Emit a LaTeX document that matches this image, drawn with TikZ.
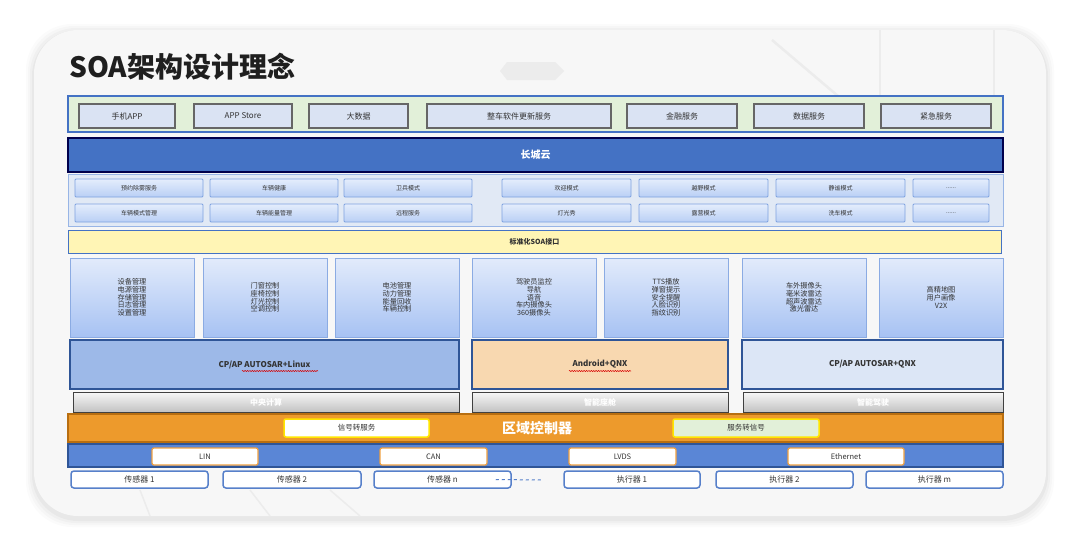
\documentclass[tikz,border=0pt]{standalone}
\usepackage{fontspec}
\setmainfont{Noto Sans CJK SC}
\usetikzlibrary{decorations.pathmorphing}
\definecolor{cardbg}{HTML}{F7F7F7}
\definecolor{txt}{HTML}{333333}
\definecolor{bblue}{HTML}{4472C4}
\definecolor{dblue}{HTML}{2F5597}
\definecolor{lgreen}{HTML}{E2F0D9}
\definecolor{lblue}{HTML}{DAE3F3}
\definecolor{btnbd}{HTML}{7EA2E0}
\definecolor{btntop}{HTML}{E4EDFC}
\definecolor{btnbot}{HTML}{B9CFF5}
\definecolor{fbtop}{HTML}{E2EBFB}
\definecolor{fbbot}{HTML}{A7C2F3}
\definecolor{osA}{HTML}{9DB9E8}
\definecolor{osB}{HTML}{F8D8B0}
\definecolor{osC}{HTML}{DCE6F6}
\definecolor{orangeb}{HTML}{ED9A2C}
\definecolor{oranged}{HTML}{B86E10}
\definecolor{busblue}{HTML}{5A86D6}
\definecolor{buslbl}{HTML}{F0A040}
\definecolor{ylw}{HTML}{FFF5B5}
\definecolor{ylwbd}{HTML}{FFE600}
\definecolor{faint}{HTML}{ECECEC}
\newcommand\mkbox[7]{\node[#1, minimum width={#5-#3}, minimum height={#6-#4}] (#2) at ({(#3+#5)/2},{(#4+#6)/2}) {#7};}
\tikzset{
  base/.style={inner sep=0pt, align=center, text=txt},
  band/.style={base, draw=bblue, line width=1.2pt},
  topbtn/.style={base, draw=black!60, line width=1.2pt, fill=lblue, font=\fontsize{8}{9}\selectfont},
  scenebtn/.style={base, draw=btnbd, line width=0.8pt, top color=btntop, bottom color=btnbot, rounded corners=1pt, font=\fontsize{6}{7}\selectfont},
  funcbox/.style={base, draw=btnbd!90, line width=0.8pt, top color=fbtop, bottom color=fbbot, font=\fontsize{7.2}{7.7}\selectfont},
  osbox/.style={base, draw=dblue, line width=1.5pt, font=\fontsize{8}{9}\selectfont\bfseries},
  greybar/.style={base, draw=black!75, line width=1pt, top color=black!3, bottom color=black!24, text=white, font=\fontsize{8}{9}\selectfont\bfseries},
  convbox/.style={base, draw=ylwbd, line width=1.5pt, rounded corners=2pt, font=\fontsize{7.5}{9}\selectfont},
  buslabel/.style={base, fill=white, draw=buslbl, line width=1.2pt, rounded corners=2pt, font=\fontsize{7.5}{9}\selectfont},
  devbox/.style={base, fill=white, draw=bblue!90, line width=1.5pt, rounded corners=3pt, font=\fontsize{8}{9}\selectfont},
  wavy/.style={draw=red!85!black, line width=0.5pt, decorate, decoration={snake, amplitude=0.6pt, segment length=2.4pt}},
  faintline/.style={draw=faint, line width=2.5pt}
}
\begin{document}
\begin{tikzpicture}[x=1pt,y=-1pt]
\useasboundingbox (0,0) rectangle (1080,541);
\fill[white] (0,0) rectangle (1080,541);
% card with soft shadow
\foreach \i/\o in {8/0.015,6/0.02,4/0.025,2/0.03}
  \fill[black,opacity=\o,rounded corners=46] (34-\i,32-\i) rectangle (1046+\i,519+\i);
\fill[cardbg, rounded corners=44] (34,30) rectangle (1046,516);
% faint background decorations
\draw[faintline] (772,40) -- (838,96);
\draw[faintline] (880,30) -- (880,96);
\draw[faintline] (994,30) -- (994,96);
\fill[faint] (507,62) -- (555,62) -- (564,71) -- (555,80) -- (507,80) -- (500,71) -- cycle;
\draw[faintline, line width=1.5pt] (140,490) -- (150,516);
\draw[faintline, line width=1.5pt] (250,490) -- (270,516);
\draw[faintline, line width=1.5pt] (330,490) -- (360,516);
% title
\node[anchor=west, inner sep=0pt, text=black!88, font=\fontsize{28}{30}\selectfont\bfseries] (title) at (69,67) {SOA架构设计理念};
% top band
\mkbox{band, fill=lgreen}{topband}{68}{96}{1003}{132}{}
\mkbox{topbtn}{t1}{79}{104}{175}{128}{手机APP}
\mkbox{topbtn}{t2}{194}{104}{292}{128}{APP Store}
\mkbox{topbtn}{t3}{309}{104}{408}{128}{大数据}
\mkbox{topbtn}{t4}{427}{104}{611}{128}{整车软件更新服务}
\mkbox{topbtn}{t5}{627}{104}{737}{128}{金融服务}
\mkbox{topbtn}{t6}{754}{104}{864}{128}{数据服务}
\mkbox{topbtn}{t7}{881}{104}{991}{128}{紧急服务}
% cloud
\mkbox{base, fill=bblue, draw=black!70!blue, line width=1.5pt, text=white, font=\fontsize{10}{12}\selectfont\bfseries}{cloud}{68}{138}{1003}{172}{长城云}
% scene panel
\mkbox{base, fill=lblue!80, draw=btnbd!80, line width=1pt}{scenes}{68}{174}{1003}{226}{}
\mkbox{scenebtn}{s11}{75}{179}{203}{197}{预约除雾服务}
\mkbox{scenebtn}{s12}{210}{179}{338}{197}{车辆健康}
\mkbox{scenebtn}{s13}{344}{179}{472}{197}{卫兵模式}
\mkbox{scenebtn}{s14}{502}{179}{631}{197}{欢迎模式}
\mkbox{scenebtn}{s15}{639}{179}{768}{197}{越野模式}
\mkbox{scenebtn}{s16}{776}{179}{905}{197}{静谧模式}
\mkbox{scenebtn}{s17}{913}{179}{989}{197}{......}
\mkbox{scenebtn}{s21}{75}{204}{203}{222}{车辆模式管理}
\mkbox{scenebtn}{s22}{210}{204}{338}{222}{车辆能量管理}
\mkbox{scenebtn}{s23}{344}{204}{472}{222}{远程服务}
\mkbox{scenebtn}{s24}{502}{204}{631}{222}{灯光秀}
\mkbox{scenebtn}{s25}{639}{204}{768}{222}{露营模式}
\mkbox{scenebtn}{s26}{776}{204}{905}{222}{洗车模式}
\mkbox{scenebtn}{s27}{913}{204}{989}{222}{......}
% SOA interface
\mkbox{base, fill=ylw, draw=bblue, line width=1pt, font=\fontsize{7}{8}\selectfont\bfseries}{soa}{68}{230}{1001}{253}{标准化SOA接口}
% function boxes
\mkbox{funcbox}{f1}{70}{258}{194}{337}{设备管理\\电源管理\\存储管理\\日志管理\\设置管理}
\mkbox{funcbox}{f2}{203}{258}{327}{337}{门窗控制\\座椅控制\\灯光控制\\空调控制}
\mkbox{funcbox}{f3}{335}{258}{459}{337}{电池管理\\动力管理\\能量回收\\车辆控制}
\mkbox{funcbox}{f4}{472}{258}{596}{337}{驾驶员监控\\导航\\语音\\车内摄像头\\360摄像头}
\mkbox{funcbox}{f5}{604}{258}{728}{337}{TTS播放\\弹窗提示\\安全提醒\\人脸识别\\指纹识别}
\mkbox{funcbox}{f6}{742}{258}{866}{337}{车外摄像头\\毫米波雷达\\超声波雷达\\激光雷达}
\mkbox{funcbox}{f7}{879}{258}{1003}{337}{高精地图\\用户画像\\V2X}
% OS boxes
\mkbox{osbox, fill=osA}{osA}{70}{340}{459}{389}{CP/AP AUTOSAR+Linux}
\mkbox{osbox, fill=osB}{osB}{472}{340}{728}{389}{Android+QNX}
\mkbox{osbox, fill=osC}{osC}{742}{340}{1003}{389}{CP/AP AUTOSAR+QNX}
\coordinate (wA1) at (242,371); \coordinate (wA2) at (318,371);
\draw[wavy] (wA1) -- (wA2);
\coordinate (wB1) at (569,371); \coordinate (wB2) at (631,371);
\draw[wavy] (wB1) -- (wB2);
% grey domain bars
\mkbox{greybar}{g1}{73}{392}{459}{412}{中央计算}
\mkbox{greybar}{g2}{472}{392}{728}{412}{智能座舱}
\mkbox{greybar}{g3}{743}{392}{1003}{412}{智能驾驶}
% zone controller
\mkbox{base, fill=orangeb, draw=oranged, line width=1.2pt}{zone}{68}{414}{1003}{442}{}
\node[inner sep=0pt, text=white, font=\fontsize{14}{16}\selectfont\bfseries] (zonelbl) at (537,428) {区域控制器};
\mkbox{convbox, fill=white}{c1}{284}{419}{429}{437}{信号转服务}
\mkbox{convbox, fill=lgreen}{c2}{673}{419}{819}{437}{服务转信号}
% bus
\mkbox{base, fill=busblue, draw=dblue, line width=1.2pt}{bus}{68}{444}{1003}{467}{}
\mkbox{buslabel}{lin}{152}{448}{258}{465}{LIN}
\mkbox{buslabel}{can}{380}{448}{487}{465}{CAN}
\mkbox{buslabel}{lvds}{569}{448}{676}{465}{LVDS}
\mkbox{buslabel}{eth}{788}{448}{904}{465}{Ethernet}
% sensors / actuators
\mkbox{devbox}{sen1}{71}{471}{208}{488}{传感器 1}
\mkbox{devbox}{sen2}{223}{471}{361}{488}{传感器 2}
\mkbox{devbox}{senn}{374}{471}{511}{488}{传感器 n}
\mkbox{devbox}{act1}{564}{471}{700}{488}{执行器 1}
\mkbox{devbox}{act2}{716}{471}{853}{488}{执行器 2}
\mkbox{devbox}{actm}{866}{471}{1003}{488}{执行器 m}
\coordinate (dashend) at (541,480);
\draw[bblue!90, line width=1pt, dash pattern=on 3pt off 3pt] ([xshift=-16pt]senn.east) -- (dashend);
\end{tikzpicture}
\end{document}
